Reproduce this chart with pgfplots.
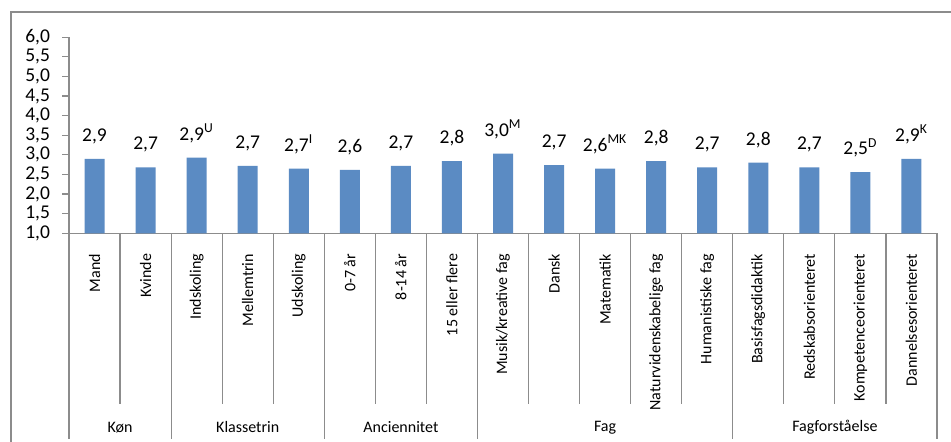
\documentclass[border=0pt]{standalone}
\usepackage{pgfplots}
\pgfplotsset{compat=1.18}
\usepackage{pgfplotstable}
\usepackage{fontspec}
\setmainfont{Carlito}
\definecolor{barblue}{HTML}{5B8BC3}
\definecolor{axgray}{HTML}{8C8C8C}
\pgfplotstableread{
x y label
0 2.90 2,9
1 2.68 2,7
2 2.93 2,9\textsuperscript{U}
3 2.72 2,7
4 2.65 2,7\textsuperscript{I}
5 2.62 2,6
6 2.72 2,7
7 2.84 2,8
8 3.03 3,0\textsuperscript{M}
9 2.74 2,7
10 2.65 2,6\textsuperscript{MK}
11 2.84 2,8
12 2.68 2,7
13 2.80 2,8
14 2.68 2,7
15 2.56 2,5\textsuperscript{D}
16 2.90 2,9\textsuperscript{K}
}\datatable
\begin{document}
\begin{tikzpicture}
\useasboundingbox (0,0) rectangle (475.5pt,-221pt);
\draw[axgray, line width=0.6pt] (5.5pt,-221pt) -- (5.5pt,-6pt) -- (475.5pt,-6pt);
\begin{axis}[
  at={(34.5pt,-116.65pt)}, anchor=south west,
  scale only axis, width=434pt, height=98pt,
  xmin=-0.5, xmax=16.5, ymin=1, ymax=6,
  clip=false,
  axis x line*=bottom, axis y line*=left,
  axis line style={axgray, line width=0.6pt},
  ytick={1,1.5,2,2.5,3,3.5,4,4.5,5,5.5,6},
  tick align=outside,
  major tick length=3.5pt,
  y tick style={axgray, line width=0.6pt},
  x tick style={draw=none},
  yticklabel style={font=\fontsize{9.75}{11}\selectfont, xshift=-2.5pt,
    /pgf/number format/.cd, fixed, fixed zerofill, precision=1, use comma, assume math mode=true},
  xtick={0,1,...,16},
  xticklabels={Mand,Kvinde,Indskoling,Mellemtrin,Udskoling,0-7 år,8-14 år,15 eller flere,Musik/kreative fag,Dansk,Matematik,Naturvidenskabelige fag,Humanistiske fag,Basisfagsdidaktik,Redskabsorienteret,Kompetenceorienteret,Dannelsesorienteret},
  xticklabel style={yshift=-3.3pt, rotate=90, anchor=east, font=\fontsize{8}{9.6}\selectfont},
  nodes near coords,
  point meta=explicit symbolic,
  nodes near coords style={font=\fontsize{9.75}{11}\selectfont, anchor=south, yshift=4pt, black},
]
\addplot[ybar, bar width=10pt, fill=barblue, draw=none] table[x=x, y=y, meta=label] {\datatable};
\pgfplotsinvokeforeach{0.5,2.5,3.5,5.5,6.5,8.5,9.5,10.5,11.5,13.5,14.5,15.5}{
  \draw[axgray, line width=0.6pt] (axis cs:#1,1) -- ([yshift=-85.5pt]axis cs:#1,1);
}
\pgfplotsinvokeforeach{-0.5,1.5,4.5,7.5,12.5,16.5}{
  \draw[axgray, line width=0.6pt] (axis cs:#1,1) -- ([yshift=-103pt]axis cs:#1,1);
}
\begin{scope}[every node/.style={font=\fontsize{8}{9.6}\selectfont}]
\node at ([yshift=-97pt]axis cs:0.5,1) {Køn};
\node at ([yshift=-97pt]axis cs:3,1) {Klassetrin};
\node at ([yshift=-97pt]axis cs:6,1) {Anciennitet};
\node at ([yshift=-97pt]axis cs:10,1) {Fag};
\node at ([yshift=-97pt]axis cs:14.5,1) {Fagforståelse};
\end{scope}
\end{axis}
\end{tikzpicture}
\end{document}
